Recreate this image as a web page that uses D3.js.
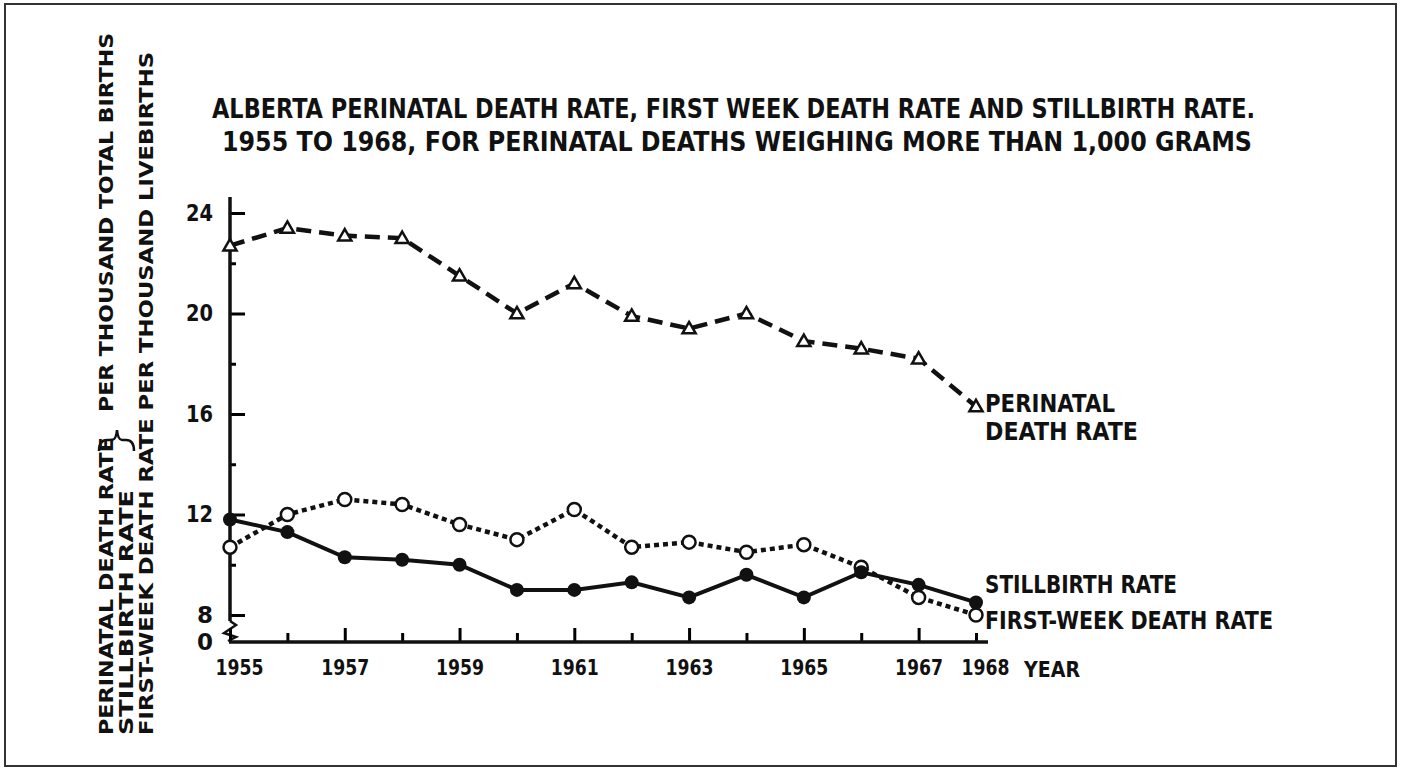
<!DOCTYPE html>
<html>
<head>
<meta charset="utf-8">
<script src="https://cdn.jsdelivr.net/npm/d3@7"></script>
<style>
    body { margin: 0; background: #fff; }
    text { fill: #111; font-family: "DejaVu Sans", sans-serif; }
    .cond { font-family: "DejaVu Sans Condensed", "Liberation Sans Narrow", "DejaVu Sans", sans-serif; font-stretch: condensed; }
</style>
</head>
<body>
<div id="chart"></div>
<script>
// categories
var years = [1955, 1956, 1957, 1958, 1959, 1960, 1961, 1962, 1963, 1964, 1965, 1966, 1967, 1968];
var labelYears = [1955, 1957, 1959, 1961, 1963, 1965, 1967, 1968];
var yMajorTicks = [0, 8, 12, 16, 20, 24];
var yMinorTicks = [10, 14, 18, 22];

// series (rates per thousand)
var perinatal = [22.7, 23.4, 23.1, 23.0, 21.5, 20.0, 21.2, 19.9, 19.4, 20.0, 18.9, 18.6, 18.2, 16.3];
var stillbirth = [11.8, 11.3, 10.3, 10.2, 10.0, 9.0, 9.0, 9.3, 8.7, 9.6, 8.7, 9.7, 9.2, 8.5];
var firstWeek = [10.7, 12.0, 12.6, 12.4, 11.6, 11.0, 12.2, 10.7, 10.9, 10.5, 10.8, 9.9, 8.7, 8.0];

// texts
var titleLines = [
    "ALBERTA PERINATAL DEATH RATE, FIRST WEEK DEATH RATE AND STILLBIRTH RATE.",
    "1955 TO 1968, FOR PERINATAL DEATHS WEIGHING MORE THAN 1,000 GRAMS"
];
var yTitle1a = "PERINATAL DEATH RATE";
var yTitle1b = "PER THOUSAND TOTAL BIRTHS";
var yTitle2 = "STILLBIRTH  RATE";
var yTitle3 = "FIRST-WEEK DEATH RATE PER THOUSAND LIVEBIRTHS";

var w = 1403, h = 768;
var svg = d3.select("#chart").append("svg").attr("width", w).attr("height", h);

svg.append("rect").attr("x", 5).attr("y", 4).attr("width", 1391).attr("height", 762)
    .attr("fill", "#fff").attr("stroke", "#333").attr("stroke-width", 2);

// scales: the y axis is broken between 0 and 8
var x = d3.scaleLinear().domain([1955, 1968]).range([230, 976]);
var y = d3.scaleLinear().domain([0, 8, 24]).range([642, 615, 213]);

// title
var title = svg.append("g").attr("class", "cond");
title.append("text").attr("x", 212).attr("y", 118).attr("font-size", 27).attr("font-weight", 600)
    .attr("textLength", 1043).attr("lengthAdjust", "spacingAndGlyphs").text(titleLines[0]);
title.append("text").attr("x", 222).attr("y", 151).attr("font-size", 27).attr("font-weight", 600)
    .attr("textLength", 1030).attr("lengthAdjust", "spacingAndGlyphs").text(titleLines[1]);

// y axis titles (rotated)
function vText(bx, len, str, start) {
    svg.append("text")
        .attr("transform", "translate(" + bx + "," + (735 - start) + ") rotate(-90)")
        .attr("font-size", 20).attr("font-weight", 600)
        .attr("textLength", len).attr("lengthAdjust", "spacingAndGlyphs")
        .text(str);
}
vText(113, 298, yTitle1a, 0);
vText(113, 379, yTitle1b, 323);
vText(133, 245, yTitle2, 0);
vText(153, 683, yTitle3, 0);
// brace joining the first two lines
svg.append("path")
    .attr("d", "M99,451 Q99,440 107,440 L112,440 Q116,440 117,430 Q118,440 122,440 L126,440 Q134,440 134,451")
    .attr("fill", "none").attr("stroke", "#111").attr("stroke-width", 2.5);

// y axis
var yAxis = svg.append("g").attr("class", "axis y").attr("transform", "translate(230,0)")
    .call(d3.axisLeft(y).tickValues(yMajorTicks).tickSize(-15).tickPadding(17).tickFormat(d3.format("d")));
yAxis.selectAll(".tick line").attr("stroke-width", 3);
yAxis.selectAll("text").attr("font-size", 23).attr("font-weight", 600)
    .attr("textLength", function (d) { return d >= 10 ? 27 : null; })
    .attr("lengthAdjust", "spacingAndGlyphs");
yAxis.select(".domain").remove();
yAxis.selectAll(".tick").filter(function (d) { return d === 0; }).select("line").remove();

var yMinor = svg.append("g").attr("transform", "translate(230,0)")
    .call(d3.axisLeft(y).tickValues(yMinorTicks).tickSize(-6).tickFormat(""));
yMinor.select(".domain").remove();
yMinor.selectAll(".tick line").attr("stroke-width", 3);

// vertical axis line with break mark
svg.append("line").attr("x1", 230).attr("x2", 230).attr("y1", 197).attr("y2", y(8) + 6)
    .attr("stroke", "#111").attr("stroke-width", 3.5);
svg.append("path")
    .attr("d", "M230," + (y(8) + 6) + " L236," + (y(8) + 10) + " L224," + (y(8) + 18) + " L236," + (y(8) + 22) + " L228," + (y(0) - 1))
    .attr("fill", "none").attr("stroke", "#111").attr("stroke-width", 2.5);

// x axis
var xAxis = svg.append("g").attr("class", "axis x").attr("transform", "translate(0," + y(0) + ")")
    .call(d3.axisBottom(x).tickValues(years).tickSize(-9).tickFormat(""));
xAxis.select(".domain").remove();
xAxis.selectAll(".tick line").attr("stroke-width", 3)
    .attr("y2", function (d) { return d % 2 === 1 ? -14 : -9; });

var xLabels = svg.append("g").attr("class", "axis x").attr("transform", "translate(0," + y(0) + ")")
    .call(d3.axisBottom(x).tickValues(labelYears).tickSize(0).tickPadding(17).tickFormat(d3.format("d")));
xLabels.select(".domain").remove();
xLabels.selectAll("text").attr("font-size", 22).attr("font-weight", 600)
    .attr("textLength", 48).attr("lengthAdjust", "spacingAndGlyphs")
    .attr("dx", function (d) { return d === 1955 ? 9 : (d === 1968 ? 9 : 0); });

svg.append("line").attr("x1", 229).attr("x2", x(1968) + 12).attr("y1", y(0)).attr("y2", y(0))
    .attr("stroke", "#111").attr("stroke-width", 3.5);

svg.append("text").attr("x", x(1968) + 48).attr("y", 677).attr("font-size", 22).attr("font-weight", 600)
    .attr("textLength", 56).attr("lengthAdjust", "spacingAndGlyphs").text("YEAR");

// series
function rows(vals) {
    return years.map(function (yr, i) { return { x: yr, y: vals[i] }; });
}
var line = d3.line()
    .x(function (d) { return x(d.x); })
    .y(function (d) { return y(d.y); });

svg.append("path").datum(rows(perinatal)).attr("d", line)
    .attr("fill", "none").attr("stroke", "#111").attr("stroke-width", 4.5).attr("stroke-dasharray", "15,8");
svg.append("path").datum(rows(firstWeek)).attr("d", line)
    .attr("fill", "none").attr("stroke", "#111").attr("stroke-width", 4.5).attr("stroke-dasharray", "5,4");
svg.append("path").datum(rows(stillbirth)).attr("d", line)
    .attr("fill", "none").attr("stroke", "#111").attr("stroke-width", 4);

svg.append("g").selectAll("path").data(rows(perinatal)).enter().append("path")
    .attr("d", d3.symbol(d3.symbolTriangle).size(75))
    .attr("transform", function (d) { return "translate(" + x(d.x) + "," + (y(d.y) + 1) + ")"; })
    .attr("fill", "#fff").attr("stroke", "#111").attr("stroke-width", 2.5);

svg.append("g").selectAll("circle").data(rows(firstWeek)).enter().append("circle")
    .attr("cx", function (d) { return x(d.x); })
    .attr("cy", function (d) { return y(d.y); })
    .attr("r", 6.5).attr("fill", "#fff").attr("stroke", "#111").attr("stroke-width", 2.5);

svg.append("g").selectAll("circle").data(rows(stillbirth)).enter().append("circle")
    .attr("cx", function (d) { return x(d.x); })
    .attr("cy", function (d) { return y(d.y); })
    .attr("r", 7).attr("fill", "#111");

// series labels at the right end
var lx = x(1968) + 9;
var last = years.length - 1;
function label(ty, str, len) {
    svg.append("text").attr("x", lx).attr("y", ty).attr("font-size", 24).attr("font-weight", 600)
        .attr("textLength", len).attr("lengthAdjust", "spacingAndGlyphs").text(str);
}
label(y(perinatal[last]) + 6, "PERINATAL", 130);
label(y(perinatal[last]) + 34, "DEATH RATE", 153);
label(y(stillbirth[last]) - 9, "STILLBIRTH RATE", 192);
label(y(firstWeek[last]) + 14, "FIRST-WEEK DEATH RATE", 288);
</script>
</body>
</html>
